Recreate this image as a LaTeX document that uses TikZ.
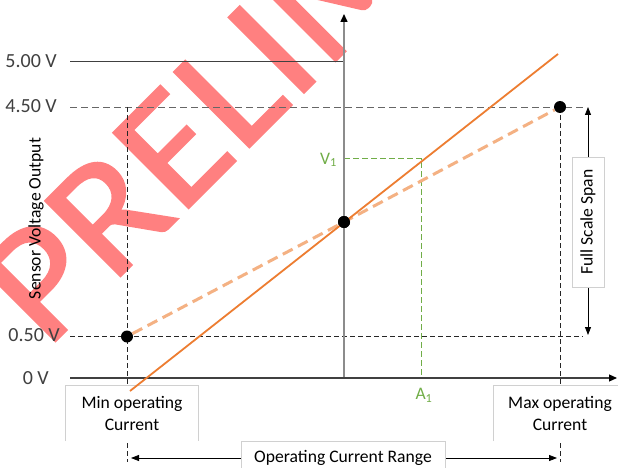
\documentclass[tikz,border=0pt]{standalone}
\usepackage{fontspec}
\setmainfont{Carlito}
\newfontfamily\wmfont[FakeStretch=1.07,FakeBold=1.2]{Carlito}
\usetikzlibrary{arrows.meta}
\definecolor{orangeA}{HTML}{ED7D31}
\definecolor{orangeL}{HTML}{F4B183}
\definecolor{greenA}{HTML}{70AD47}
\definecolor{axisgray}{HTML}{8C8C8C}
\definecolor{darkline}{HTML}{404040}
\definecolor{boxgray}{HTML}{D0D0D0}
\definecolor{labelgray}{HTML}{404040}
\definecolor{wmark}{HTML}{FF8080}
\begin{document}
\begin{tikzpicture}[x=1pt,y=-1pt,
  vallabel/.style={anchor=east,inner sep=0pt,text=labelgray,font=\fontsize{20}{24}\selectfont},
  boxtext/.style={font=\fontsize{17.6}{21.3}\selectfont,align=center,inner sep=0pt,fill=white},
  dot/.style={circle,fill=black,minimum size=12pt,inner sep=0pt},
  guide/.style={dash pattern=on 5pt off 3pt,line width=0.8pt,black!85},
  guidegray/.style={dash pattern=on 7pt off 4pt,line width=0.9pt,black!60},
  greendash/.style={dash pattern=on 6pt off 3pt,line width=1.2pt,greenA},
  wm/.style={anchor=base west,rotate=45,inner sep=0pt,text=wmark,font=\wmfont\fontsize{166}{166}\selectfont},
  rangetip/.style={{Triangle[length=8pt,width=6pt,color=black]}-{Triangle[length=8pt,width=6pt,color=black]}},
  axistip/.style={-{Triangle[length=8pt,width=7pt,color=black]}}
]
\useasboundingbox (0,0) rectangle (618,468);
\fill[white] (0,0) rectangle (618,468);
% watermark
\begin{scope}
\clip (0,0) rectangle (618,468);
\node[wm] (wmtext) at (46.4,350.3) {PRELIMINARY};
\end{scope}
% coordinates
\coordinate (O) at (344,378);
\coordinate (xstart) at (70,378);
\coordinate (xend) at (617,378);
\coordinate (ytop) at (344,14);
\coordinate (l5a) at (70,62);
\coordinate (l5b) at (344,62);
\coordinate (l45a) at (70,107);
\coordinate (l45b) at (583,107);
\coordinate (l05a) at (70,336.5);
\coordinate (l05b) at (583,336.5);
\coordinate (vminTop) at (127,107);
\coordinate (vminBot) at (127,462);
\coordinate (vmaxBot) at (560,462);
\coordinate (fsTop) at (588,107);
\coordinate (fsBot) at (588,335);
\coordinate (rL) at (131,458);
\coordinate (rR) at (557,458);
\coordinate (v1) at (344,158.5);
\coordinate (p1) at (421.5,158.5);
\coordinate (a1) at (421.5,378);
\coordinate (oA) at (130,391);
\coordinate (oB) at (558,54);
% value labels
\node[vallabel] (t5) at (57,61.5) {5.00 V};
\node[vallabel] (t45) at (57,106.5) {4.50 V};
\node[vallabel] (t05) at (60,335.5) {0.50 V};
\node[vallabel] (t0) at (49,378) {0 V};
\node[anchor=base,rotate=90,inner sep=0pt,font=\fontsize{17.6}{21}\selectfont] (ylab) at (40.5,218.5) {Sensor Voltage Output};
% guides
\draw[darkline,line width=1pt] (l5a) -- (l5b);
\draw[guidegray] (l45a) -- (l45b);
\draw[guide] (l05a) -- (l05b);
\draw[guide] (vminTop) -- (vminBot);
\draw[guide] (560,107) -- (vmaxBot);
\draw[greendash] (v1) -- (p1) -- (a1);
% axes
\draw[axisgray,line width=1.5pt,axistip] (O) -- (ytop);
\draw[darkline,line width=1.1pt,axistip] (xstart) -- (xend);
% arrows
\draw[black,line width=0.8pt,rangetip] (fsTop) -- (fsBot);
\draw[black,line width=0.8pt,rangetip] (rL) -- (rR);
% boxes
\node[boxtext,minimum width=132pt,minimum height=55pt] (minbox) at (132,413.5) {Min operating\\Current};
\draw[boxgray,line width=0.8pt] (minbox.south west) -- (minbox.north west) -- (minbox.north east) -- (minbox.south east);
\node[boxtext,minimum width=132pt,minimum height=55pt] (maxbox) at (560,413.5) {Max operating\\Current};
\draw[boxgray,line width=0.8pt] (maxbox.south west) -- (maxbox.north west) -- (maxbox.north east) -- (maxbox.south east);
\node[boxtext,minimum width=204pt,minimum height=34pt,draw=boxgray,line width=0.8pt] (rangebox) at (343,458) {Operating Current Range};
\node[boxtext,rotate=90,minimum width=130pt,minimum height=32pt,draw=boxgray,line width=0.8pt] (fsbox) at (588,222) {Full Scale Span};
% dots
\node[dot] (dmin) at (127,336.5) {};
\node[dot] (dmid) at (344,222) {};
\node[dot] (dmax) at (560,107) {};
% curves
\draw[orangeL,line width=3pt,dash pattern=on 11pt off 6pt] (dmin) -- (dmid.center) -- (dmax);
\draw[orangeA,line width=1.8pt] (oA) -- (oB);
\node[dot] at (dmid) {};
% green labels
\node[anchor=east,inner sep=0pt,text=greenA,font=\fontsize{17.6}{21}\selectfont] (v1lab) at (337,160) {V\textsubscript{1}};
\node[anchor=north,inner sep=0pt,text=greenA,font=\fontsize{17.6}{21}\selectfont] (a1lab) at (424,388) {A\textsubscript{1}};
\end{tikzpicture}
\end{document}
